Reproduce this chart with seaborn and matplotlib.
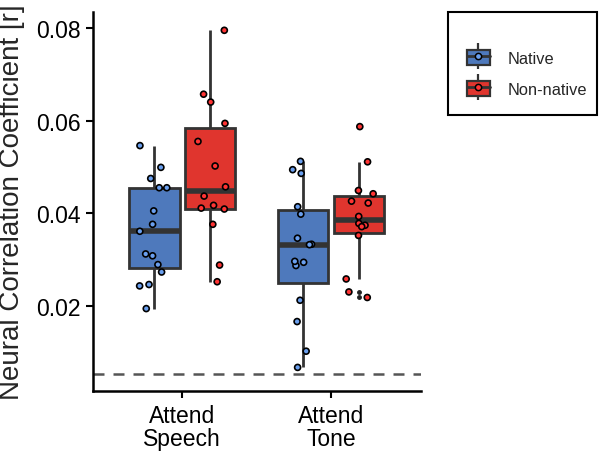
import numpy as np
import pandas as pd
import matplotlib
matplotlib.use("Agg")
import matplotlib.pyplot as plt
import seaborn as sns
from matplotlib.patches import Patch, Rectangle
from matplotlib.lines import Line2D
from matplotlib.legend_handler import HandlerTuple

# values (neural correlation coefficient r)
native_speech = [0.0546, 0.0499, 0.0475, 0.0455, 0.0455, 0.0405, 0.0376, 0.0361,
                 0.0312, 0.0308, 0.0289, 0.0273, 0.0246, 0.0243, 0.0194]
nonnative_speech = [0.0795, 0.0657, 0.0640, 0.0594, 0.0555, 0.0502, 0.0457,
                    0.0437, 0.0417, 0.0409, 0.0411, 0.0376, 0.0288, 0.0252]
native_tone = [0.0512, 0.0494, 0.0486, 0.0414, 0.0398, 0.0346, 0.0333, 0.0332,
               0.0287, 0.0294, 0.0296, 0.0212, 0.0166, 0.0102, 0.0067]
nonnative_tone = [0.0587, 0.0511, 0.0449, 0.0442, 0.0426, 0.0422, 0.0393,
                  0.0378, 0.0374, 0.0371, 0.0352, 0.0258, 0.0230, 0.0218]
conditions = ["Attend\nSpeech", "Attend\nTone"]
groups = ["Native", "Non-native"]
chance_level = 0.0052

rows = []
for cond, g, vals in [(conditions[0], groups[0], native_speech),
                      (conditions[0], groups[1], nonnative_speech),
                      (conditions[1], groups[0], native_tone),
                      (conditions[1], groups[1], nonnative_tone)]:
    for v in vals:
        rows.append({"condition": cond, "group": g, "r": v})
df = pd.DataFrame(rows)

box_colors = {"Native": "#4E79BC", "Non-native": "#E0352E"}
point_colors = {"Native": "#6A9FEE", "Non-native": "#FF3434"}
dark = "#333333"

sns.set_style("ticks")
plt.rcParams["font.family"] = ["Liberation Sans", "DejaVu Sans"]

fig = plt.figure(figsize=(6, 4.52), dpi=100)
ax = fig.add_axes([0.155, 0.1327, 0.546, 0.838])

sns.boxplot(data=df, x="condition", y="r", hue="group", order=conditions,
            hue_order=groups, palette=box_colors, saturation=1, width=0.75,
            gap=0.1, dodge=True, linecolor=dark, linewidth=2, showcaps=False,
            medianprops={"linewidth": 4, "color": dark},
            flierprops={"marker": "o", "markersize": 2.5,
                        "markerfacecolor": "#222222", "markeredgecolor": "#222222"},
            legend=False, ax=ax)

np.random.seed(7)
sns.stripplot(data=df, x="condition", y="r", hue="group", order=conditions,
              hue_order=groups, palette=point_colors, dodge=True, jitter=0.2,
              size=4.3, linewidth=1.2, edgecolor="black", legend=False,
              zorder=3, ax=ax)

ax.axhline(chance_level, color="#555555", lw=1.8, ls=(0, (4.4, 3.6)), zorder=0)

ax.set_xlim(-0.6, 1.6)
ax.set_ylim(0.0016, 0.0834)
ax.set_yticks([0.02, 0.04, 0.06, 0.08])
ax.set_yticklabels(["0.02", "0.04", "0.06", "0.08"])
ax.set_xlabel("")
ax.set_ylabel("Neural Correlation Coefficient [r]", fontsize=20, labelpad=8)
ax.tick_params(labelsize=16.5, length=5, width=1.5, pad=4, colors="black")
for lbl in ax.get_xticklabels():
    lbl.set_linespacing(1.05)
sns.despine(ax=ax)
for s in ["left", "bottom"]:
    ax.spines[s].set_linewidth(1.8)
    ax.spines[s].set_color("black")

# legend: small boxplot glyphs inside a square frame
handles = []
for g in groups:
    whisk = Line2D([], [], linestyle="none", marker="|", markersize=19,
                   markeredgewidth=1.6, color=dark)
    body = Patch(facecolor=box_colors[g], edgecolor=dark, linewidth=1.6)
    med = Line2D([], [], color=dark, lw=2)
    pt = Line2D([], [], linestyle="none", marker="o", markersize=4.5,
                markerfacecolor=point_colors[g], markeredgecolor="black",
                markeredgewidth=1.1)
    handles.append((whisk, body, med, pt))
fig.legend(handles=handles, labels=groups, loc="upper left",
           bbox_to_anchor=(0.778, 0.888), frameon=False, fontsize=11.8,
           handlelength=1.4, handleheight=1.05, handletextpad=1.1,
           labelspacing=0.9, borderpad=0, borderaxespad=0,
           handler_map={tuple: HandlerTuple(ndivide=1)})
fig.patches.append(Rectangle((448 / 600, 336 / 452), 149 / 600, 103 / 452,
                             transform=fig.transFigure, fill=False,
                             edgecolor="black", linewidth=1.5))

plt.savefig("out.png", dpi=100)
